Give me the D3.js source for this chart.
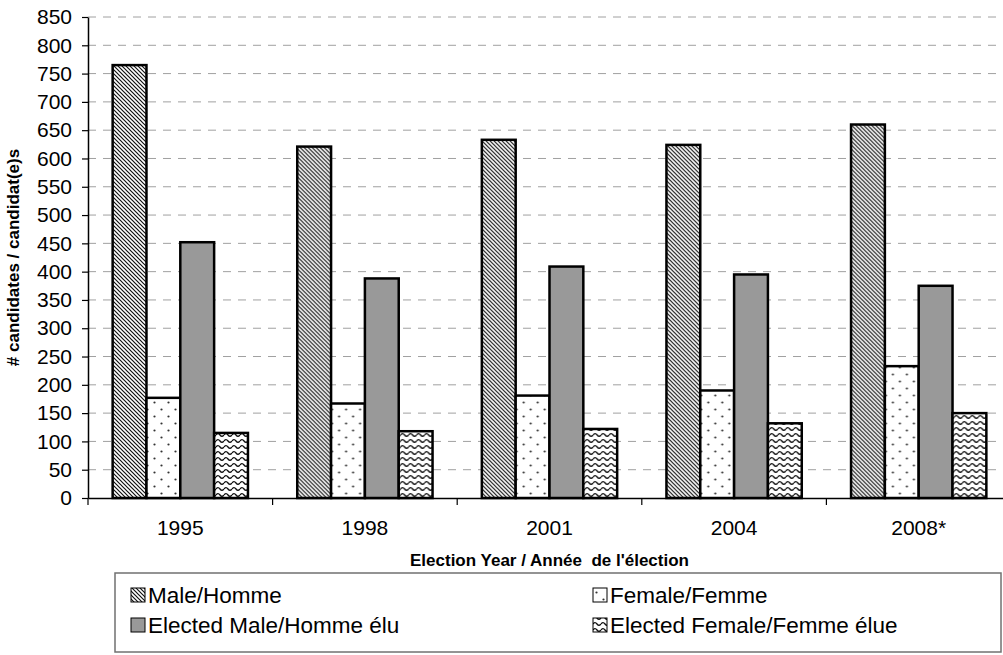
<!DOCTYPE html>
<html>
<head>
<meta charset="utf-8">
<script src="https://cdn.jsdelivr.net/npm/d3@7"></script>
<style>
  body { margin: 0; background: #fff; }
  svg { display: block; font-family: "Liberation Sans", Arial, sans-serif; }
</style>
</head>
<body>
<div class="canvas"></div>
<script>
const years = ['1995', '1998', '2001', '2004', '2008*'];
const seriesNames = ['Male/Homme', 'Female/Femme', 'Elected Male/Homme élu', 'Elected Female/Femme élue'];
const male = [765, 621, 633, 624, 660];
const female = [177, 167, 181, 190, 233];
const electedMale = [452, 388, 409, 395, 375];
const electedFemale = [115, 118, 122, 132, 150];
const yTicks = d3.range(0, 851, 50);

const seriesValues = [male, female, electedMale, electedFemale];
const fills = ['url(#diag)', 'url(#dots)', '#999999', 'url(#wave)'];

const width = 1003;
const height = 655;
const plot = { left: 88, right: 1011, top: 17, bottom: 498 };

const svg = d3.select('.canvas')
  .append('svg')
  .attr('width', width)
  .attr('height', height);

// patterns
const defs = svg.append('defs');

defs.append('pattern')
  .attr('id', 'diag')
  .attr('patternUnits', 'userSpaceOnUse')
  .attr('width', 4)
  .attr('height', 4)
  .call(p => {
    p.append('rect').attr('width', 4).attr('height', 4).attr('fill', '#fff');
    p.append('path')
      .attr('d', 'M-1,-1 L5,5 M-1,3 L1,5 M3,-1 L5,1')
      .attr('stroke', '#111')
      .attr('stroke-width', 1.2);
  });

defs.append('pattern')
  .attr('id', 'dots')
  .attr('patternUnits', 'userSpaceOnUse')
  .attr('width', 14)
  .attr('height', 14)
  .call(p => {
    p.append('rect').attr('width', 14).attr('height', 14).attr('fill', '#fff');
    p.append('circle').attr('cx', 3.5).attr('cy', 3.5).attr('r', 1.1).attr('fill', '#333');
    p.append('circle').attr('cx', 10.5).attr('cy', 10.5).attr('r', 1.1).attr('fill', '#333');
  });

defs.append('pattern')
  .attr('id', 'wave')
  .attr('patternUnits', 'userSpaceOnUse')
  .attr('width', 8)
  .attr('height', 6)
  .call(p => {
    p.append('rect').attr('width', 8).attr('height', 6).attr('fill', '#fff');
    p.append('path')
      .attr('d', 'M0,3 Q2,0.3 4,3 T8,3')
      .attr('fill', 'none')
      .attr('stroke', '#111')
      .attr('stroke-width', 1.3);
  });

// scales
const x0 = d3.scaleBand().domain(years).range([plot.left, plot.right]).padding(0);
const step = x0.step();
const x1 = d3.scaleBand()
  .domain(seriesNames)
  .range([step * 0.1335, step * (1 - 0.1335)])
  .padding(0);
const y = d3.scaleLinear().domain([0, 850]).range([plot.bottom, plot.top]);

// gridlines
svg.append('g')
  .selectAll('line')
  .data(yTicks.filter(d => d > 0))
  .join('line')
  .attr('x1', plot.left)
  .attr('x2', plot.right)
  .attr('y1', d => y(d))
  .attr('y2', d => y(d))
  .attr('stroke', '#a0a0a0')
  .attr('stroke-width', 1)
  .attr('stroke-dasharray', '8,7');

// bars
const groups = svg.append('g')
  .selectAll('g')
  .data(years)
  .join('g')
  .attr('transform', d => `translate(${x0(d)},0)`);

groups.selectAll('rect')
  .data((d, i) => seriesNames.map((s, j) => ({ s, j, v: seriesValues[j][i] })))
  .join('rect')
  .attr('x', d => x1(d.s))
  .attr('width', x1.bandwidth())
  .attr('y', d => y(d.v))
  .attr('height', d => y(0) - y(d.v))
  .attr('fill', d => fills[d.j])
  .attr('stroke', '#000')
  .attr('stroke-width', 2.5);

// y axis
const yAxis = d3.axisLeft(y)
  .tickValues(yTicks)
  .tickSize(6)
  .tickSizeOuter(0)
  .tickPadding(10);

const yAxisGroup = svg.append('g')
  .attr('transform', `translate(${plot.left},0)`)
  .call(yAxis);
yAxisGroup.select('.domain').attr('stroke', '#000').attr('stroke-width', 1.5);
yAxisGroup.selectAll('.tick line').attr('stroke', '#000').attr('stroke-width', 1.2);
yAxisGroup.selectAll('text')
  .attr('font-size', 21)
  .attr('font-family', '"Liberation Sans", Arial, sans-serif')
  .attr('fill', '#000');

// x axis
const xAxis = d3.axisBottom(x0).tickSize(0).tickSizeOuter(0);
const xAxisGroup = svg.append('g')
  .attr('transform', `translate(0,${plot.bottom})`)
  .call(xAxis);
xAxisGroup.select('.domain').attr('stroke', '#000').attr('stroke-width', 1.5);
xAxisGroup.selectAll('text')
  .attr('y', 37)
  .attr('dy', null)
  .attr('font-size', 21)
  .attr('font-family', '"Liberation Sans", Arial, sans-serif')
  .attr('fill', '#000');

xAxisGroup.append('g')
  .selectAll('line')
  .data(years)
  .join('line')
  .attr('x1', d => x0(d))
  .attr('x2', d => x0(d))
  .attr('y1', 0)
  .attr('y2', 7)
  .attr('stroke', '#000')
  .attr('stroke-width', 1.2);

// axis titles
svg.append('text')
  .attr('x', (plot.left + plot.right) / 2)
  .attr('y', 566)
  .attr('text-anchor', 'middle')
  .attr('font-size', 17)
  .attr('font-weight', 'bold')
  .attr('xml:space', 'preserve')
  .style('white-space', 'pre')
  .text('Election Year / Année  de l\'élection');

svg.append('text')
  .attr('transform', `translate(19,${(plot.top + plot.bottom) / 2}) rotate(-90)`)
  .attr('text-anchor', 'middle')
  .attr('font-size', 17)
  .attr('font-weight', 'bold')
  .text('# candidates / candidat(e)s');

// legend
const legendBox = { x: 115, y: 573, w: 886, h: 79 };
svg.append('rect')
  .attr('x', legendBox.x)
  .attr('y', legendBox.y)
  .attr('width', legendBox.w)
  .attr('height', legendBox.h)
  .attr('fill', '#fff')
  .attr('stroke', '#707070')
  .attr('stroke-width', 1.5);

const legendPos = [[131, 603], [593, 603], [131, 633], [593, 633]];
const legend = svg.append('g')
  .selectAll('g')
  .data(seriesNames)
  .join('g')
  .attr('transform', (d, i) => `translate(${legendPos[i][0]},${legendPos[i][1]})`);

legend.append('rect')
  .attr('x', 0)
  .attr('y', -15)
  .attr('width', 14)
  .attr('height', 14)
  .attr('fill', (d, i) => fills[i])
  .attr('stroke', '#000')
  .attr('stroke-width', 1);

legend.append('text')
  .attr('x', 17)
  .attr('y', 0)
  .attr('font-size', 22.5)
  .text(d => d);
</script>
</body>
</html>
